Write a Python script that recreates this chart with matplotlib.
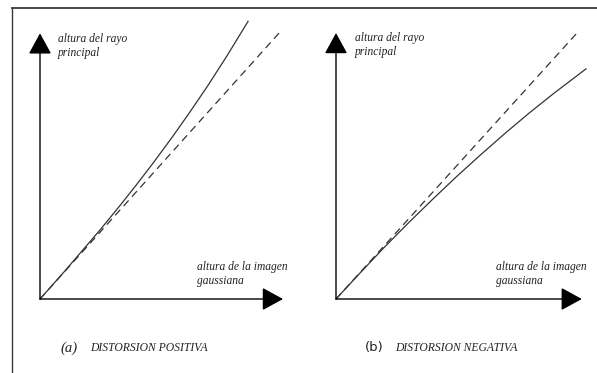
import matplotlib
matplotlib.use("Agg")
import matplotlib.pyplot as plt
from matplotlib.lines import Line2D

# ---- data (gaussian image height vs chief-ray height) ----
ideal_x = [0.0, 1.0]
ideal_y = [0.0, 1.0]

pos_x = [0.0, 0.1, 0.25, 0.33, 0.4, 0.47, 0.55, 0.62, 0.7, 0.78, 0.867]
pos_y = [0.0, 0.1012, 0.2585, 0.3463, 0.4256, 0.5076, 0.605, 0.6942, 0.800, 0.912, 1.040]

neg_x = [0.0, 0.1, 0.2, 0.3, 0.4, 0.5, 0.6, 0.7, 0.8, 0.9, 1.037]
neg_y = [0.0, 0.098, 0.194, 0.2856, 0.374, 0.460, 0.542, 0.6216, 0.698, 0.7704, 0.865]

ylabel_txt = "altura del rayo\nprincipal"
xlabel_txt = "altura de la imagen\ngaussiana"
captions = [("(a)", "DISTORSION POSITIVA"), ("(b)", "DISTORSION NEGATIVA")]

W, H = 597, 373
fig = plt.figure(figsize=(W / 100, H / 100), dpi=100)
fig.patch.set_facecolor("white")

def fx(px):
    return px / W

def fy(py):
    return 1 - py / H

# outer frame (top and left edges)
fig.add_artist(Line2D([fx(12), fx(597)], [fy(8), fy(8)], color="#3a3a3a", lw=1.3))
fig.add_artist(Line2D([fx(12), fx(12)], [fy(8), fy(373)], color="#3a3a3a", lw=1.0))

line_col = "#333333"
serif_it = dict(family="Liberation Serif", style="italic")

panels = [
    dict(ox=40, oy=299, w=240, h=267, cx=pos_x, cy=pos_y, xtip=1.0125, ytip=0.995),
    dict(ox=336, oy=299, w=241, h=266, cx=neg_x, cy=neg_y, xtip=1.02, ytip=1.0),
]

for i, p in enumerate(panels):
    ax = fig.add_axes([fx(p["ox"]), fy(p["oy"]), p["w"] / W, p["h"] / H])
    ax.set_xlim(0, 1)
    ax.set_ylim(0, 1)
    ax.axis("off")
    ax.patch.set_alpha(0)
    arrow_kw = dict(arrowstyle="-|>,head_length=0.42,head_width=0.23",
                    color="black", lw=1.0, shrinkA=0, shrinkB=0, mutation_scale=31)
    ax.annotate("", xy=(p["xtip"], 0), xytext=(0, 0), arrowprops=arrow_kw,
                annotation_clip=False)
    ax.annotate("", xy=(0, p["ytip"]), xytext=(0, 0), arrowprops=arrow_kw,
                annotation_clip=False)
    ax.plot(ideal_x, ideal_y, color=line_col, lw=0.9, ls=(0, (6, 4)), clip_on=False)
    ax.plot(p["cx"], p["cy"], color=line_col, lw=0.9, clip_on=False)

# labels
lab_kw = dict(fontsize=8.3, linespacing=1.3, va="center", ha="left", color="#222222", **serif_it)
fig.text(fx(58), fy(46), ylabel_txt, **lab_kw)
fig.text(fx(355), fy(45), ylabel_txt, **lab_kw)
fig.text(fx(197), fy(274), xlabel_txt, **lab_kw)
fig.text(fx(496), fy(274), xlabel_txt, **lab_kw)

# captions
fig.text(fx(60), fy(348), captions[0][0], fontsize=10.5, va="center", ha="left",
         family="Liberation Serif", style="italic", color="#222222")
fig.text(fx(90), fy(348), captions[0][1], fontsize=8.4, va="center", ha="left",
         color="#222222", **serif_it)
fig.text(fx(365), fy(348), captions[1][0], fontsize=9.5, va="center", ha="left",
         family="DejaVu Sans", color="#222222")
fig.text(fx(395), fy(348), captions[1][1], fontsize=8.4, va="center", ha="left",
         color="#222222", **serif_it)

fig.savefig("out.png", dpi=100, facecolor="white")
